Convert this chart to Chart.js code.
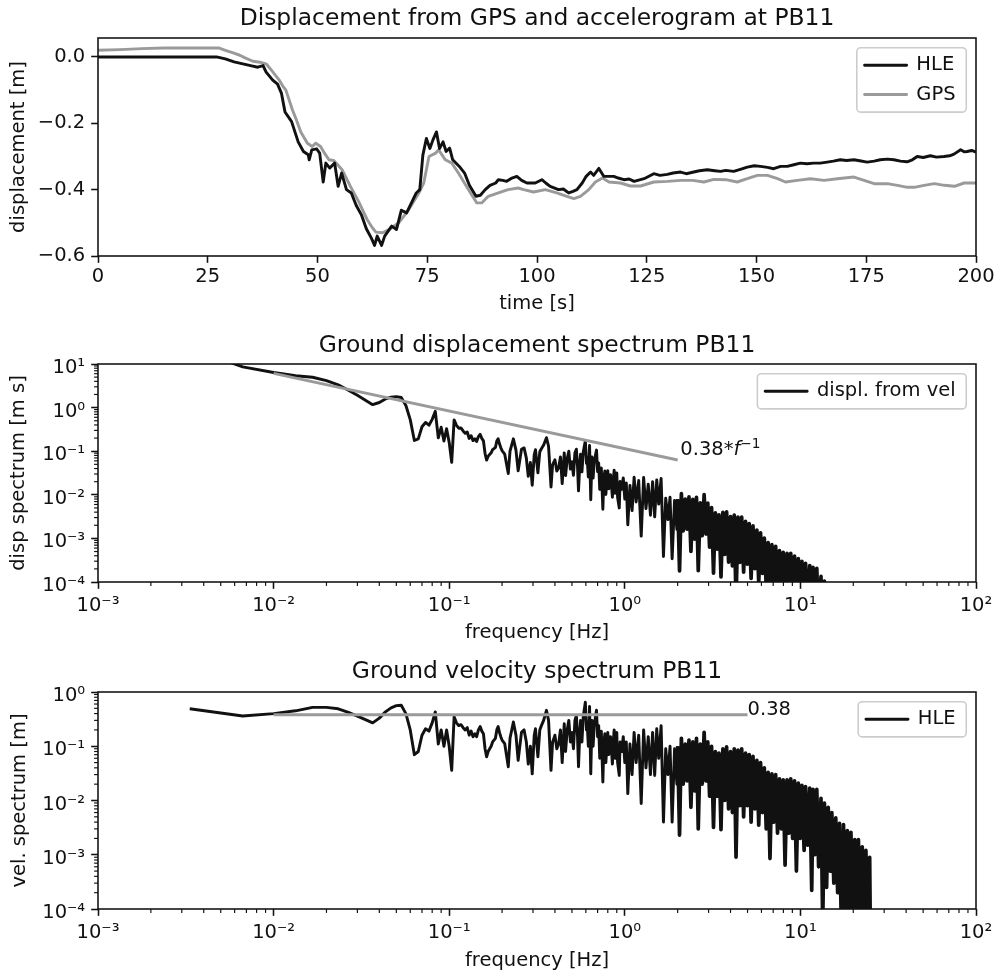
<!DOCTYPE html>
<html><head><meta charset="utf-8">
<script src="https://cdn.jsdelivr.net/npm/chart.js@4.4.1/dist/chart.umd.min.js"></script>
<style>
html,body{margin:0;padding:0;background:#fff;}
#wrap{position:relative;width:998px;height:975px;overflow:hidden;}
canvas{position:absolute;left:0;}
</style></head><body>
<div id="wrap">
<canvas id="c1" width="998" height="322" style="top:0px"></canvas>
<canvas id="c2" width="998" height="326" style="top:322px"></canvas>
<canvas id="c3" width="998" height="327" style="top:648px"></canvas>
</div>
<script>
// ---------------- DATA ----------------
// Panel 1: displacement time series
const hleTime = [0,10,20,27,29,31,33,35,36.4,37.6,
38.3,39.8,40.9,41.8,42.6,44.1,45.6,46.8,47.9,48.1,
48.7,49.8,50.5,51.3,51.9,52.8,53.9,54.7,55.5,56.6,
57.7,58.8,60,61.1,62.3,63,63.6,64.6,65.3,66.9,
68,69.1,70.3,71.4,72.5,73.3,74,74.8,75.6,76.3,
77.1,77.8,78.6,79.3,80.1,80.8,82.3,83.5,84.6,86.1,
87.1,88.2,89.3,90.6,91.2,92.2,93.1,94.3,95.4,96.5,
97.7,99.6,101.1,102,103,104.9,106,107.2,108.2,109.1,
110.3,111.2,112.2,112.9,114.1,115.2,117.5,118.5,119.8,121,
122.1,124.4,126.6,128,129.7,131,132.7,134,135.7,137,
138.8,140.5,141.8,143,144.8,146.5,147.9,149.5,150.9,152.5,
153.9,155.5,157,158.5,160,161.5,163,164.5,166.1,167.5,
169.1,170.5,172.2,173.5,175.2,176.8,178.2,179.8,181.3,182.8,
184.3,185.5,186.6,188,189.6,191,192.7,194,195,196.5,
197.3,198,199,200];
const hleDisp = [0,0,0,0,-0.006,-0.015,-0.021,-0.027,-0.031,-0.026,
-0.046,-0.07,-0.082,-0.11,-0.166,-0.195,-0.256,-0.285,-0.295,-0.31,
-0.28,-0.277,-0.29,-0.377,-0.32,-0.335,-0.32,-0.39,-0.35,-0.40,
-0.41,-0.447,-0.476,-0.517,-0.547,-0.568,-0.54,-0.568,-0.54,-0.51,
-0.52,-0.462,-0.47,-0.44,-0.41,-0.40,-0.296,-0.246,-0.276,-0.25,
-0.226,-0.276,-0.256,-0.285,-0.275,-0.31,-0.33,-0.35,-0.387,-0.42,
-0.417,-0.40,-0.387,-0.38,-0.37,-0.372,-0.375,-0.365,-0.36,-0.372,
-0.38,-0.38,-0.37,-0.38,-0.39,-0.40,-0.398,-0.41,-0.405,-0.40,
-0.38,-0.36,-0.347,-0.357,-0.336,-0.36,-0.36,-0.365,-0.37,-0.368,
-0.375,-0.367,-0.352,-0.357,-0.354,-0.35,-0.347,-0.352,-0.347,-0.343,
-0.34,-0.343,-0.345,-0.342,-0.345,-0.338,-0.332,-0.328,-0.33,-0.333,
-0.337,-0.33,-0.33,-0.325,-0.32,-0.322,-0.32,-0.32,-0.317,-0.314,
-0.31,-0.312,-0.31,-0.313,-0.317,-0.314,-0.31,-0.308,-0.31,-0.314,
-0.316,-0.31,-0.30,-0.303,-0.298,-0.302,-0.30,-0.298,-0.293,-0.28,
-0.286,-0.285,-0.282,-0.287];
const gpsTime = [0,5,10,15,20,25,27.5,29,30.8,32.3,
33.5,35.3,36.9,38.4,39.5,40.7,41.3,42.2,42.8,44.3,
45.2,46.2,47.7,48.8,49.6,50.7,51.6,52.6,53.7,54.6,
55.6,57.5,59.4,61.3,62.5,63.3,64.8,66.3,68.5,70.8,
73.1,74.2,75.4,76.9,77.6,79.1,80.6,82.1,84.4,86.3,
87.4,88.9,91.2,93.4,95.7,97,99.2,101.9,104.5,106.8,
108.4,109.9,111.8,113.3,114.9,116.4,119,121.3,123.6,126.6,
129.7,132.7,135.5,138,140.3,143,145.6,147.9,150.2,152.5,
154.8,156.6,159.3,162.3,165.4,168.4,172.2,174.5,176.8,179.8,
182.1,184.4,185.9,188.2,190.5,192.8,195.1,197.3,200];
const gpsDisp = [0.02,0.022,0.025,0.027,0.027,0.027,0.027,0.02,0.012,0.005,
-0.003,-0.013,-0.016,-0.022,-0.04,-0.06,-0.07,-0.09,-0.10,-0.16,
-0.19,-0.226,-0.26,-0.27,-0.26,-0.27,-0.29,-0.31,-0.312,-0.325,
-0.34,-0.39,-0.437,-0.49,-0.515,-0.528,-0.53,-0.52,-0.50,-0.46,
-0.41,-0.38,-0.30,-0.29,-0.28,-0.31,-0.32,-0.35,-0.40,-0.44,
-0.44,-0.42,-0.41,-0.40,-0.395,-0.40,-0.407,-0.40,-0.41,-0.42,
-0.427,-0.42,-0.40,-0.377,-0.365,-0.377,-0.38,-0.389,-0.389,-0.377,
-0.375,-0.372,-0.372,-0.377,-0.369,-0.37,-0.377,-0.367,-0.357,-0.357,
-0.367,-0.377,-0.372,-0.367,-0.372,-0.367,-0.362,-0.372,-0.382,-0.382,
-0.387,-0.393,-0.393,-0.387,-0.382,-0.387,-0.39,-0.38,-0.38];

// Panels 2 & 3: spectra (frequency in Hz)
const freqA = [0.00333,0.00667,0.01,0.01333,0.01667,0.02,0.02333,0.02667,0.03,0.03333,
0.03667,0.04,0.04333,0.04667,0.05,0.05333,0.05667,0.06,0.06333,0.06667,
0.07,0.07333,0.07667,0.08,0.08333,0.08667,0.09,0.09333,0.09667,0.1,
0.10333,0.10667,0.11,0.11333,0.11667,0.12,0.12333,0.12667,0.13,0.13333,
0.13667,0.14,0.14333,0.14667,0.15,0.15333,0.15667,0.16,0.16333,0.16667,
0.17,0.17333,0.17667,0.18,0.18333,0.18667,0.19,0.19333,0.19667,0.2];
const velA = [0.49,0.36,0.40,0.45,0.52,0.52,0.49,0.42,0.36,0.31,
0.27,0.33,0.43,0.51,0.56,0.57,0.40,0.20,0.07,0.08,
0.16,0.21,0.19,0.27,0.43,0.11,0.20,0.10,0.20,0.10,
0.036,0.35,0.27,0.24,0.25,0.22,0.20,0.22,0.16,0.19,
0.15,0.17,0.15,0.20,0.23,0.19,0.17,0.09,0.064,0.08,
0.09,0.10,0.12,0.13,0.14,0.20,0.23,0.18,0.15,0.13];
const dispA = [23.4,8.59,6.37,5.37,4.97,4.14,3.34,2.51,1.91,1.48,
1.17,1.31,1.58,1.74,1.78,1.70,1.12,0.53,0.176,0.191,
0.364,0.456,0.394,0.537,0.821,0.202,0.354,0.171,0.329,0.159,
0.0554,0.522,0.391,0.337,0.341,0.292,0.258,0.276,0.196,0.227,
0.175,0.193,0.167,0.217,0.244,0.197,0.173,0.0895,0.0624,0.0764,
0.0843,0.0918,0.108,0.115,0.122,0.171,0.193,0.148,0.121,0.103];

const freqB = [0.207,0.217,0.222,0.232,0.24,0.247,0.258,0.267,0.275,0.282,
0.29,0.297,0.305,0.31,0.32,0.328,0.335,0.345,0.358,0.368,
0.38,0.388,0.395,0.4,0.41,0.42,0.43,0.44,0.452,0.46,
0.47,0.48,0.49,0.5,0.51,0.52,0.53,0.538,0.545,0.555,
0.56,0.57,0.58,0.596,0.605,0.61,0.62,0.63,0.64,0.65,
0.66,0.67,0.69,0.7,0.71,0.72,0.735,0.75,0.76,0.77,
0.78,0.8,0.81,0.83,0.85,0.86,0.87,0.88,0.9,0.91,
0.93,0.94,0.96,0.98,1.0,1.02,1.04];
const velB = [0.112,0.042,0.14,0.28,0.16,0.055,0.18,0.2,0.12,0.047,
0.1,0.031,0.16,0.21,0.064,0.2,0.24,0.3,0.46,0.3,
0.036,0.12,0.14,0.16,0.09,0.11,0.2,0.05,0.26,0.08,
0.2,0.3,0.12,0.18,0.09,0.3,0.37,0.15,0.042,0.2,
0.3,0.12,0.35,0.65,0.2,0.28,0.1,0.54,0.031,0.3,
0.1,0.25,0.46,0.15,0.24,0.06,0.19,0.022,0.12,0.17,
0.05,0.18,0.07,0.15,0.047,0.12,0.2,0.06,0.18,0.05,
0.029,0.12,0.08,0.15,0.05,0.12,0.0134];
const dispB = [0.0861,0.0308,0.1004,0.192,0.106,0.0354,0.111,0.119,0.0694,0.0265,
0.0549,0.0166,0.0835,0.108,0.0318,0.097,0.114,0.138,0.2045,0.13,
0.0151,0.0492,0.0564,0.0637,0.0349,0.0417,0.074,0.0181,0.0915,0.0277,
0.0677,0.0995,0.039,0.0573,0.0281,0.0918,0.111,0.0444,0.0123,0.0574,
0.0853,0.0335,0.096,0.174,0.0526,0.0731,0.0257,0.136,0.0077,0.0735,
0.0241,0.0594,0.106,0.0341,0.0538,0.0133,0.0411,0.00467,0.0251,0.0351,
0.0102,0.0358,0.0138,0.0288,0.0088,0.0222,0.0366,0.0109,0.0318,0.0087,
0.005,0.0203,0.0133,0.0244,0.008,0.0187,0.00205];

const freqC = [1.07,1.10,1.13,1.16,1.20,1.24,1.28,1.32,1.36,1.40,
1.44,1.48,1.52,1.56,1.61,1.66,1.71,1.76,1.81,1.86,1.92,1.98];
const velC = [0.11,0.03,0.18,0.05,0.16,0.0088,0.2,0.04,0.15,0.03,
0.18,0.029,0.21,0.06,0.24,0.004,0.09,0.03,0.1,0.004,0.09,0.02];
const dispC = [0.0164,0.00434,0.0254,0.00686,0.0212,0.00113,0.0249,0.00482,0.0176,0.00341,
0.0199,0.00312,0.022,0.00612,0.0237,0.000384,0.00838,0.00271,0.00879,0.000342,0.00746,0.00161];

const freqD = [2.00,2.05,2.10,2.15,2.21,2.26,2.32,2.38,2.44,2.50,
2.56,2.62,2.69,2.76,2.83,2.90,2.97,3.04,3.12,3.20,
3.28,3.36,3.44,3.53,3.62,3.71,3.80,3.90,4.00,4.10,
4.20,4.30,4.41,4.52,4.63,4.75,4.87,4.99,5.11,5.24,
5.37,5.51,5.65,5.79,5.93,6.08,6.23,6.39,6.55,6.71,
6.88,7.05,7.23,7.41,7.60,7.79,7.98,8.18,8.39,8.60,
8.81,9.03,9.26,9.49,9.73,9.97,10.2,10.5,10.7,11.0,
11.3,11.6,11.8,12.1,12.4,12.7,13.1,13.4,13.7,14.1,
14.4,14.8,15.1,15.5,15.9,16.3,16.7,17.1,17.6,18.0,
18.5,18.9,19.4,19.9,20.4,20.9,21.4,21.9,22.5,23.0,
23.6,24.2,24.8,25.0];
const velD = [0.10,0.0023,0.14,0.02,0.11,0.023,0.13,0.0075,0.12,0.015,
0.14,0.003,0.11,0.02,0.18,0.023,0.12,0.012,0.10,0.0032,
0.08,0.012,0.075,0.0029,0.09,0.01,0.097,0.007,0.08,0.006,
0.09,0.0009,0.085,0.008,0.09,0.005,0.075,0.008,0.07,0.004,
0.065,0.007,0.055,0.0035,0.05,0.006,0.04,0.003,0.033,0.00085,
0.031,0.004,0.03,0.0025,0.025,0.003,0.024,0.00064,0.024,0.0025,
0.025,0.002,0.023,0.0005,0.021,0.002,0.019,0.0012,0.018,0.0015,
0.017,0.00022,0.016,0.001,0.016,0.0006,0.011,0.00005,0.009,0.00025,
0.0075,0.0005,0.006,0.0003,0.0048,0.0002,0.0038,0.00005,0.0036,0.00005,
0.0028,0.00005,0.0026,0.00005,0.0019,0.00005,0.0019,0.00005,0.0014,0.00005,
0.0012,0.00005,0.0009,0.00005];
const dispD = [0.00796,0.000179,0.0106,0.00148,0.00792,0.00162,0.00892,0.000502,0.00783,0.000955,
0.0087,0.000182,0.00651,0.00115,0.0101,0.00126,0.00643,0.000628,0.0051,0.000159,
0.00388,0.000568,0.00347,0.000131,0.00396,0.000429,0.00406,0.000286,0.00318,0.000233,
0.00341,0.0000333,0.00307,0.000282,0.00309,0.000168,0.00245,0.000255,0.00218,0.000121,
0.00193,0.000202,0.00155,0.0000962,0.00134,0.000157,0.00102,0.0000747,0.000802,0.0000202,
0.000717,0.0000903,0.00066,0.0000537,0.000524,0.0000613,0.000479,0.0000125,0.000455,0.0000463,
0.000452,0.0000353,0.000395,0.0000084,0.000343,0.0000319,0.000296,0.0000182,0.000268,0.0000217,
0.000239,0.000003,0.000216,0.0000132,0.000205,0.0000075,0.000134,0.0000006,0.000105,0.0000028,
0.0000829,0.0000054,0.0000632,0.0000031,0.000048,0.000002,0.0000362,0.00000047,0.0000326,0.00000046,
0.0000241,0.00000042,0.0000213,0.0000004,0.0000148,0.00000038,0.0000141,0.00000036,0.0000099,0.00000035,
0.0000081,0.00000033,0.0000058,0.00000032];

// reference lines
const fitDispFreq = [0.01, 2.0];
const fitDispVal = [6.1, 0.063];
const fitVelFreq = [0.01, 5.0];
const fitVelVal = [0.38, 0.38];
const annotDispAt = [2.07, 0.082];
const annotVelAt = [5.0, 0.38];

// ticks
const timeTicks = [0, 25, 50, 75, 100, 125, 150, 175, 200];
const timeTickLabels = ['0','25','50','75','100','125','150','175','200'];
const dispTicks = [-0.6, -0.4, -0.2, 0.0];
const dispTickLabels = ['\u22120.6','\u22120.4','\u22120.2','0.0'];
const freqTicks = [1e-3, 1e-2, 1e-1, 1e0, 1e1, 1e2];
const freqTickLabels = ['10\u207B\u00B3','10\u207B\u00B2','10\u207B\u00B9','10\u2070','10\u00B9','10\u00B2'];
const dspTicks = [1e-4, 1e-3, 1e-2, 1e-1, 1e0, 1e1];
const dspTickLabels = ['10\u207B\u2074','10\u207B\u00B3','10\u207B\u00B2','10\u207B\u00B9','10\u2070','10\u00B9'];
const velTicks = [1e-4, 1e-3, 1e-2, 1e-1, 1e0];
const velTickLabels = ['10\u207B\u2074','10\u207B\u00B3','10\u207B\u00B2','10\u207B\u00B9','10\u2070'];
const minorMultiples = [2,3,4,5,6,7,8,9];

const freq = [...freqA, ...freqB, ...freqC, ...freqD];
const velSpec = [...velA, ...velB, ...velC, ...velD];
const dispSpec = [...dispA, ...dispB, ...dispC, ...dispD];
if (freq.length !== velSpec.length || freq.length !== dispSpec.length ||
    hleTime.length !== hleDisp.length || gpsTime.length !== gpsDisp.length) {
  throw new Error('length mismatch ' + [freq.length, velSpec.length, dispSpec.length, hleTime.length, hleDisp.length, gpsTime.length, gpsDisp.length].join(','));
}

// ---------------- STYLE ----------------
const FONT = "'DejaVu Sans', 'Liberation Sans', sans-serif";
const FS = 19.5, TFS = 23.4, PT = 1.95;
const INK = '#111111', GREY = '#9a9a9a';
const DENSE_FROM = 2.0;   // dense (many overlapping strokes) part of the spectra

const pts = (xs, ys) => xs.map((x, i) => ({x, y: ys[i]}));

const axesDecor = {
  id: 'axesDecor',
  afterDatasetsDraw(chart) {
    const {ctx, chartArea: a} = chart;
    ctx.save();
    ctx.strokeStyle = INK;
    ['x', 'y'].forEach(id => {
      const s = chart.scales[id];
      if (s.type !== 'logarithmic') return;
      ctx.lineWidth = 0.6 * PT;
      const e0 = Math.round(Math.log10(s.min)), e1 = Math.round(Math.log10(s.max));
      for (let e = e0; e < e1; e++) {
        for (const m of minorMultiples) {
          const p = s.getPixelForValue(m * Math.pow(10, e));
          ctx.beginPath();
          if (id === 'x') { ctx.moveTo(p, a.bottom); ctx.lineTo(p, a.bottom + 2 * PT); }
          else { ctx.moveTo(a.left, p); ctx.lineTo(a.left - 2 * PT, p); }
          ctx.stroke();
        }
      }
    });
    ctx.lineWidth = 0.8 * PT;
    ctx.strokeRect(a.left, a.top, a.right - a.left, a.bottom - a.top);
    ctx.restore();
  }
};

const legendBox = {
  id: 'legendBox',
  afterLayout(chart) {
    const lg = chart.legend;
    if (!lg || !lg.legendItems || !lg.legendItems.length) return;
    const a = chart.chartArea, ctx = chart.ctx;
    ctx.save();
    ctx.font = FS + 'px ' + FONT;
    let tw = 0;
    lg.legendItems.forEach(it => { tw = Math.max(tw, ctx.measureText(it.text).width); });
    ctx.restore();
    const n = lg.legendItems.length;
    const w = 70.2 + tw, h = n * FS + (n - 1) * 0.5 * FS + 15.6;
    const x = a.right - 0.5 * FS - w, y = a.top + 0.5 * FS;
    chart.$legendFrame = {x, y, w, h};
    const pad = lg.options.labels.padding;
    lg.left = x + 7.8 - pad;
    lg.top = y + 7.8 - pad;
    lg.right = lg.left + lg.width;
    lg.bottom = lg.top + lg.height;
  },
  beforeDraw(chart) {
    const f = chart.$legendFrame;
    if (!f) return;
    const ctx = chart.ctx;
    ctx.save();
    ctx.fillStyle = 'rgba(255,255,255,0.8)';
    ctx.strokeStyle = '#cccccc';
    ctx.lineWidth = 0.8 * PT;
    ctx.beginPath();
    if (ctx.roundRect) ctx.roundRect(f.x, f.y, f.w, f.h, 0.2 * FS); else ctx.rect(f.x, f.y, f.w, f.h);
    ctx.fill();
    ctx.stroke();
    ctx.restore();
  }
};

const annot = {
  id: 'annot',
  afterDatasetsDraw(chart, args, opts) {
    if (!opts || !opts.parts) return;
    const ctx = chart.ctx;
    let x = chart.scales.x.getPixelForValue(opts.at[0]);
    const y = chart.scales.y.getPixelForValue(opts.at[1]);
    ctx.save();
    ctx.fillStyle = INK;
    ctx.textBaseline = 'alphabetic';
    ctx.textAlign = 'left';
    for (const p of opts.parts) {
      ctx.font = (p.italic ? 'italic ' : '') + p.size + 'px ' + FONT;
      ctx.fillText(p.text, x, y - (p.rise || 0));
      x += ctx.measureText(p.text).width;
    }
    ctx.restore();
  }
};

function xAxis(type, min, max, values, labels, titleText, tickPad, titlePadBottom) {
  return {
    type, min, max, position: 'bottom',
    afterBuildTicks: s => { s.ticks = values.map(v => ({value: v})); },
    afterFit: s => { s.height = 66; s.paddingLeft = 0; s.paddingRight = 0; },
    ticks: { callback: (v, i) => labels[i], font: {family: FONT, size: FS}, color: INK,
             padding: tickPad, autoSkip: false, maxRotation: 0, minRotation: 0 },
    grid: { display: true, drawOnChartArea: false, drawTicks: true, tickLength: 3.5 * PT,
            tickWidth: 0.8 * PT, tickColor: INK },
    border: { display: false },
    title: { display: true, text: titleText, font: {family: FONT, size: FS}, color: INK,
             padding: {top: 0, bottom: titlePadBottom} }
  };
}
function yAxis(type, min, max, values, labels, titleText, titlePadTop, labelOffset) {
  return {
    type, min, max, position: 'left',
    afterBuildTicks: s => { s.ticks = values.map(v => ({value: v})); },
    afterFit: s => { s.width = 98; s.paddingTop = 0; s.paddingBottom = 0; },
    ticks: { callback: (v, i) => labels[i], font: {family: FONT, size: FS}, color: INK,
             padding: 6, autoSkip: false, labelOffset },
    grid: { display: true, drawOnChartArea: false, drawTicks: true, tickLength: 3.5 * PT,
            tickWidth: 0.8 * PT, tickColor: INK },
    border: { display: false },
    title: { display: true, text: titleText, font: {family: FONT, size: FS}, color: INK,
             padding: {top: titlePadTop, bottom: 0} }
  };
}
function lineDs(label, data, color, dense) {
  const ds = { label, data, borderColor: color, backgroundColor: color, borderWidth: 1.5 * PT,
           pointRadius: 0, pointHoverRadius: 0, showLine: true, tension: 0, fill: false,
           borderJoinStyle: 'round', borderCapStyle: 'butt', clip: 0 };
  if (dense) {
    ds.segment = { borderWidth: c => (c.p0.parsed.x >= DENSE_FROM ? 3.7 : 1.5 * PT) };
  }
  return ds;
}
function baseOptions(titleText, titlePad, scales, extraPlugins) {
  return {
    responsive: false, maintainAspectRatio: false, animation: false, devicePixelRatio: 1,
    events: [],
    layout: { padding: {left: 0, right: 22, top: 0, bottom: 0} },
    scales,
    plugins: Object.assign({
      title: { display: true, text: titleText, fullSize: false, color: INK,
               font: {family: FONT, size: TFS, weight: 'normal'}, padding: titlePad },
      tooltip: { enabled: false },
      legend: { display: true, position: 'chartArea', align: 'start',
                labels: { font: {family: FONT, size: FS}, color: INK, boxWidth: 42, boxHeight: 0,
                          padding: 0.5 * FS, filter: it => it.text !== '' } }
    }, extraPlugins || {})
  };
}

// ---------------- CHART 1 ----------------
new Chart(document.getElementById('c1'), {
  type: 'scatter',
  data: { datasets: [
    lineDs('HLE', pts(hleTime, hleDisp), INK),
    lineDs('GPS', pts(gpsTime, gpsDisp), GREY)
  ]},
  options: baseOptions('Displacement from GPS and accelerogram at PB11', {top: 4.96, bottom: 4.96}, {
    x: xAxis('linear', 0, 200, timeTicks, timeTickLabels, 'time [s]', 2.8, 6.8),
    y: yAxis('linear', -0.6, 0.057, dispTicks, dispTickLabels, 'displacement [m]', 7.5, 0)
  }),
  plugins: [axesDecor, legendBox]
});

// ---------------- CHART 2 ----------------
new Chart(document.getElementById('c2'), {
  type: 'scatter',
  data: { datasets: [
    lineDs('', pts(fitDispFreq, fitDispVal), GREY),
    lineDs('displ. from vel', pts(freq, dispSpec), INK, true)
  ]},
  options: baseOptions('Ground displacement spectrum PB11', {top: 9.7, bottom: 4.22}, {
    x: xAxis('logarithmic', 1e-3, 1e2, freqTicks, freqTickLabels, 'frequency [Hz]', 5, 3.8),
    y: yAxis('logarithmic', 1e-4, 1e1, dspTicks, dspTickLabels, 'disp spectrum [m s]', 7.5, 4)
  }, { annot: { at: annotDispAt, parts: [
      {text: '0.38*', size: FS}, {text: 'f', size: FS, italic: true},
      {text: '\u22121', size: FS * 0.7, rise: 6.5}] } }),
  plugins: [axesDecor, legendBox, annot]
});

// ---------------- CHART 3 ----------------
new Chart(document.getElementById('c3'), {
  type: 'scatter',
  data: { datasets: [
    lineDs('', pts(fitVelFreq, fitVelVal), GREY),
    lineDs('HLE', pts(freq, velSpec), INK, true)
  ]},
  options: baseOptions('Ground velocity spectrum PB11', {top: 10.3, bottom: 5.62}, {
    x: xAxis('logarithmic', 1e-3, 1e2, freqTicks, freqTickLabels, 'frequency [Hz]', 5, 2.5),
    y: yAxis('logarithmic', 1e-4, 1e0, velTicks, velTickLabels, 'vel. spectrum [m]', 8.5, 4)
  }, { annot: { at: annotVelAt, parts: [{text: '0.38', size: FS}] } }),
  plugins: [axesDecor, legendBox, annot]
});
</script>
</body></html>
